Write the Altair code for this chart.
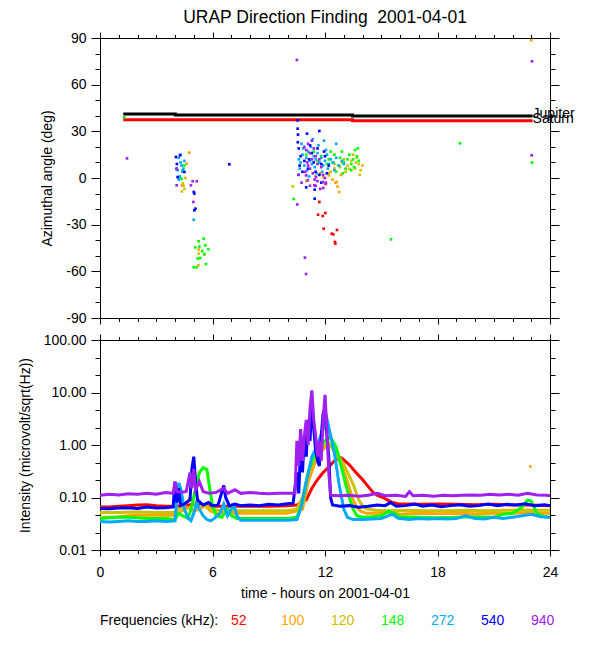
import altair as alt
import pandas as pd

FONT = "Liberation Sans"
FREQS = ["52", "100", "120", "148", "272", "540", "940"]
COLORS = ["#ff0000", "#ffa500", "#cdc000", "#00ff00", "#00aaff", "#0000ff", "#a020f0"]

TITLE = "URAP Direction Finding\u00a0 2001-04-01"
X_TITLE = "time - hours on 2001-04-01"
Y_TOP_TITLE = "Azimuthal angle (deg)"
Y_BOT_TITLE = "Intensity (microvolt/sqrt(Hz))"

X_MAJOR = [0, 6, 12, 18, 24]
X_MINOR = list(range(0, 25))
Y_TOP_MAJOR = [-90, -60, -30, 0, 30, 60, 90]
Y_TOP_MINOR = list(range(-90, 91, 10))
Y_BOT_MAJOR = [0.01, 0.1, 1, 10, 100]
Y_BOT_MINOR = [0.0215, 0.0464, 0.215, 0.464, 2.15, 4.64, 21.5, 46.4]

# ---- direction finding points (hours, azimuth deg) ----
DF_52 = [(11.70, -15.4), (11.63, -23.6), (11.88, -24.4), (12.02, -22.5), (11.93, -32.6),
         (12.36, -35.8), (12.64, -33.4), (12.53, -41.1), (12.55, -42.2), (12.44, -36.2)]
DF_100 = [(4.76, 16.3), (4.62, 9.2), (4.37, -4.7), (5.27, -46.0), (12.20, 1.7), (12.40, -1.0),
          (12.55, -3.0), (12.67, -5.5), (12.76, -9.0), (12.30, 4.0), (12.50, 6.0), (11.90, 0.5),
          (12.05, -4.0), (12.62, -2.5), (11.75, 3.0), (12.85, 2.0), (23.00, 88.5)]
DF_120 = [(4.41, -3.6), (4.50, -6.9), (4.37, -8.6), (4.55, 0.0), (4.45, -5.0), (5.26, -48.6),
          (5.25, -56.1), (5.56, -49.3), (10.28, -5.4), (12.20, 3.0), (12.50, 9.0), (12.80, 7.0),
          (13.00, 12.0), (13.20, 8.0), (13.40, 11.0), (13.60, 6.0), (13.70, 13.0), (13.80, 9.0),
          (13.90, 5.0), (14.00, 8.0), (13.50, 15.0), (13.10, 4.0), (13.85, 2.0), (11.50, 1.0),
          (11.00, -2.0), (12.90, 10.0), (13.30, 6.0), (13.65, 10.0)]
DF_148 = [(1.30, 39.0), (4.23, 0.0), (4.50, 8.1), (4.35, -0.5), (4.40, 5.0), (5.26, -40.7),
          (5.53, -39.0), (5.08, -44.6), (5.30, -44.1), (5.62, -43.3), (5.78, -45.8), (5.56, -48.9),
          (5.21, -51.8), (5.35, -51.4), (5.65, -55.3), (5.00, -57.4), (5.16, -57.4), (5.45, -47.0),
          (10.33, -13.5), (15.52, -39.4), (19.20, 22.3), (23.04, 9.9), (11.00, 15.0), (11.40, 17.0),
          (11.80, 14.0), (12.20, 12.0), (12.40, 10.0), (12.50, 15.0), (12.70, 8.0), (12.80, 13.0),
          (12.90, 17.0), (13.00, 10.0), (13.10, 6.0), (13.20, 12.0), (13.30, 15.0), (13.40, 9.0),
          (13.50, 12.0), (13.60, 18.0), (13.70, 14.0), (13.75, 19.0), (13.40, 5.0), (12.60, 4.0),
          (12.30, 17.0), (11.60, 11.0), (13.80, 11.0), (12.95, 3.0), (13.55, 7.0), (12.10, 9.0)]
DF_272 = [(4.20, 13.0), (4.30, 10.0), (4.35, 8.0), (4.15, 5.0), (4.40, 4.0), (4.50, 11.0),
          (4.25, 1.0), (4.45, 6.0), (4.30, 15.0), (4.20, -1.0), (5.00, -26.8), (10.60, 12.0),
          (10.70, 10.0), (10.80, 15.0), (10.90, 8.0), (11.00, 13.0), (11.10, 17.0), (11.20, 11.0),
          (11.30, 9.0), (11.40, 14.0), (11.50, 12.0), (11.60, 16.0), (11.70, 10.0), (11.80, 13.0),
          (11.90, 8.0), (12.00, 11.0), (12.10, 15.0), (12.20, 9.0), (12.30, 12.0), (12.45, 10.0),
          (12.60, 13.0), (12.75, 8.0), (12.90, 11.0), (10.65, 6.0), (10.85, 19.0), (11.05, 5.0),
          (11.25, 20.0), (11.45, 7.0), (11.65, 21.0), (11.85, 4.0), (12.05, 18.0), (10.75, 22.0),
          (11.35, 25.0), (10.60, 2.0), (12.50, 5.0), (13.00, 9.0), (11.95, 24.0), (11.15, 1.0),
          (12.15, 6.0), (11.55, 3.0), (12.60, 22.0)]
DF_540 = [(4.05, 13.5), (4.09, 6.0), (4.14, 0.6), (4.27, 14.6), (4.50, 3.9), (4.10, 9.0),
          (5.03, -10.0), (5.09, -19.7), (5.03, -20.8), (5.00, -9.0), (6.90, 8.8), (10.54, 37.0),
          (10.54, 31.7), (10.56, 27.9), (11.04, 28.5), (11.70, 30.2), (10.55, 23.0), (10.60, 19.0),
          (10.70, 14.0), (10.90, 11.0), (11.10, 6.0), (11.30, 16.0), (11.50, 4.0), (11.80, 9.0),
          (12.00, 14.0), (12.10, 3.0), (11.95, 17.0), (11.20, 21.0), (10.65, 8.0), (11.40, 10.0),
          (11.60, 19.0), (12.20, 8.0), (11.70, 2.0), (11.00, -6.0), (11.45, -7.5), (11.80, -3.0),
          (11.45, -13.3), (10.80, 4.0), (11.15, 12.0)]
DF_940 = [(1.44, 12.6), (4.09, 5.6), (4.09, -4.7), (4.85, -4.7), (4.94, -2.1), (5.16, -2.1),
          (4.98, -15.4), (10.52, -17.0), (10.50, 75.9), (10.93, -51.2), (10.99, -61.7), (23.02, 14.6),
          (23.04, 75.0), (10.90, 20.0), (11.00, 18.0), (11.10, 22.0), (11.20, 16.0), (11.30, 12.0),
          (11.05, 10.0), (11.40, 19.0), (11.50, 14.0), (11.60, 9.0), (11.20, 6.0), (11.35, 3.0),
          (11.70, 12.0), (11.80, 7.0), (11.90, 2.0), (12.00, 0.0), (11.60, -2.0), (11.50, -5.0),
          (12.05, -3.0), (11.75, -7.0), (11.20, -5.0), (10.95, 4.0), (11.10, 8.0), (11.45, -1.0),
          (10.75, -3.0), (11.30, 24.0), (10.99, 1.7), (11.08, -1.5), (11.52, 0.6), (11.43, -4.7),
          (11.88, -2.6), (12.02, -3.6), (11.91, -6.4), (10.58, 2.1)]

# planet directions
JUPITER = [(1.24, 41.2), (4.02, 41.2), (4.02, 40.5), (13.47, 40.5), (13.47, 39.9), (23.07, 39.9)]
SATURN = [(1.24, 37.5), (13.47, 37.5), (13.47, 36.8), (23.07, 36.8)]

# ---- intensity series (hours, microvolt/sqrt(Hz)) ----
INT_52 = [(0, 0.066), (0.5, 0.066), (1, 0.068), (1.5, 0.070), (2, 0.072), (2.5, 0.073), (3, 0.070),
          (3.5, 0.068), (4, 0.068), (4.5, 0.070), (5, 0.075), (5.5, 0.070), (6, 0.068), (7, 0.068),
          (8, 0.068), (9, 0.068), (10, 0.070), (10.5, 0.072), (11, 0.09), (11.3, 0.15), (11.6, 0.22),
          (11.9, 0.30), (12.2, 0.38), (12.5, 0.50), (12.8, 0.58), (12.95, 0.54), (13.3, 0.42),
          (13.65, 0.30), (14.0, 0.22), (14.2, 0.18), (14.55, 0.126), (14.8, 0.11), (15.1, 0.10),
          (15.4, 0.087), (15.6, 0.080), (15.9, 0.076), (16.5, 0.075), (17, 0.074), (18, 0.075),
          (19, 0.074), (20, 0.073), (21, 0.074), (22, 0.072), (23, 0.072), (24, 0.070)]
INT_100 = [(0, 0.042), (0.5, 0.042), (1, 0.043), (1.5, 0.045), (2, 0.046), (3, 0.046), (4, 0.046),
           (4.2, 0.05), (4.5, 0.06), (4.8, 0.065), (5.0, 0.055), (5.3, 0.06), (5.6, 0.07), (5.9, 0.055),
           (6.3, 0.05), (7, 0.05), (8, 0.05), (9, 0.05), (10, 0.05), (10.5, 0.056), (10.8, 0.06),
           (11.1, 0.2), (11.4, 0.4), (11.7, 0.7), (12.0, 0.9), (12.3, 1.0), (12.6, 0.7), (12.9, 0.4),
           (13.1, 0.25), (13.3, 0.15), (13.5, 0.09), (13.7, 0.065), (13.9, 0.055), (14.2, 0.05),
           (15, 0.05), (15.5, 0.052), (16, 0.048), (17, 0.05), (18, 0.049), (19, 0.05), (20, 0.049),
           (21, 0.05), (22, 0.05), (23, 0.052), (23.5, 0.05), (24, 0.05)]
INT_120 = [(0, 0.052), (1, 0.052), (2, 0.053), (3, 0.052), (4, 0.052), (4.2, 0.06), (4.5, 0.07),
           (4.8, 0.1), (5.0, 0.08), (5.3, 0.065), (5.6, 0.075), (5.9, 0.06), (6.3, 0.057), (7, 0.056),
           (8, 0.056), (9, 0.056), (10, 0.056), (10.5, 0.06), (10.8, 0.1), (11.1, 0.3), (11.4, 0.5),
           (11.7, 0.8), (12.0, 1.0), (12.2, 1.1), (12.5, 0.75), (12.8, 0.55), (13.0, 0.42), (13.2, 0.3),
           (13.5, 0.18), (13.8, 0.09), (14.0, 0.07), (14.2, 0.061), (14.7, 0.057), (15.5, 0.056),
           (16.5, 0.057), (17.5, 0.056), (18.5, 0.056), (19.5, 0.057), (20.5, 0.056), (21.5, 0.057),
           (22.5, 0.058), (23.5, 0.057), (24, 0.057)]
INT_148 = [(0, 0.040), (0.5, 0.041), (1, 0.042), (1.5, 0.042), (2, 0.041), (2.5, 0.040), (3, 0.040),
           (3.5, 0.040), (4.0, 0.038), (4.2, 0.05), (4.4, 0.045), (4.7, 0.04), (4.9, 0.07), (5.1, 0.15),
           (5.3, 0.3), (5.5, 0.37), (5.7, 0.34), (5.85, 0.15), (6.0, 0.07), (6.2, 0.045), (6.5, 0.042),
           (6.8, 0.06), (7.0, 0.045), (7.3, 0.04), (8, 0.04), (9, 0.04), (10, 0.04), (10.5, 0.042),
           (10.8, 0.08), (11.1, 0.3), (11.4, 0.6), (11.7, 0.9), (12.0, 1.2), (12.3, 1.4), (12.6, 0.9),
           (12.9, 0.35), (13.1, 0.18), (13.3, 0.1), (13.5, 0.06), (13.7, 0.045), (14, 0.042),
           (14.5, 0.043), (15.0, 0.045), (15.4, 0.055), (15.7, 0.05), (16, 0.043), (17, 0.042),
           (18, 0.041), (19, 0.042), (20, 0.043), (21, 0.042), (21.5, 0.048), (22, 0.05), (22.5, 0.065),
           (22.8, 0.09), (23.0, 0.085), (23.3, 0.05), (23.7, 0.043), (24, 0.042)]
INT_272 = [(0, 0.035), (0.5, 0.034), (1, 0.035), (1.5, 0.036), (2, 0.035), (2.5, 0.035), (3, 0.036),
           (3.5, 0.035), (4.0, 0.036), (4.1, 0.1), (4.2, 0.19), (4.3, 0.15), (4.5, 0.06), (4.7, 0.04),
           (4.85, 0.036), (5.0, 0.05), (5.15, 0.08), (5.3, 0.06), (5.5, 0.045), (5.7, 0.038),
           (5.9, 0.036), (6.1, 0.04), (6.4, 0.05), (6.6, 0.075), (6.8, 0.045), (7.0, 0.06), (7.15, 0.07),
           (7.3, 0.045), (7.5, 0.037), (8, 0.037), (9, 0.037), (10, 0.037), (10.5, 0.038), (10.7, 0.06),
           (11.0, 0.2), (11.3, 0.6), (11.6, 1.0), (11.9, 2.0), (12.1, 3.2), (12.3, 1.5), (12.5, 0.7),
           (12.75, 0.18), (13.0, 0.06), (13.2, 0.042), (13.5, 0.038), (14, 0.038), (14.5, 0.039),
           (15, 0.04), (15.4, 0.045), (15.6, 0.048), (15.9, 0.04), (16.5, 0.038), (17, 0.04),
           (17.5, 0.039), (18, 0.04), (18.5, 0.039), (19, 0.04), (19.5, 0.045), (20, 0.04),
           (20.5, 0.039), (21, 0.042), (21.5, 0.04), (22, 0.042), (22.5, 0.045), (23, 0.048),
           (23.5, 0.043), (24, 0.042)]
INT_540 = [(0, 0.062), (0.5, 0.061), (1, 0.063), (1.5, 0.064), (2, 0.062), (2.5, 0.066), (3, 0.063),
           (3.5, 0.064), (3.9, 0.066), (4.0, 0.2), (4.1, 0.08), (4.2, 0.15), (4.3, 0.07), (4.5, 0.075),
           (4.8, 0.09), (4.9, 0.35), (5.0, 0.6), (5.1, 0.2), (5.2, 0.09), (5.5, 0.072), (5.8, 0.08),
           (6.0, 0.07), (6.3, 0.072), (6.6, 0.17), (6.7, 0.1), (6.9, 0.07), (7.2, 0.075), (7.5, 0.07),
           (8, 0.072), (8.5, 0.07), (9, 0.074), (9.5, 0.072), (10, 0.076), (10.3, 0.078), (10.5, 0.3),
           (10.6, 0.12), (10.7, 0.9), (10.8, 0.3), (10.9, 1.5), (11.0, 0.6), (11.1, 3.0), (11.2, 1.2),
           (11.3, 6.0), (11.4, 2.0), (11.5, 0.8), (11.6, 0.5), (11.7, 0.4), (11.8, 1.5), (11.9, 4.0),
           (12.0, 5.0), (12.1, 1.5), (12.2, 0.6), (12.3, 0.1), (12.4, 0.072), (12.8, 0.068),
           (13.3, 0.07), (13.8, 0.065), (14.3, 0.068), (14.8, 0.072), (15.2, 0.07), (15.5, 0.08),
           (15.8, 0.068), (16.3, 0.07), (16.8, 0.075), (17.2, 0.068), (17.7, 0.072), (18.2, 0.067),
           (18.7, 0.07), (19.2, 0.073), (19.7, 0.068), (20.2, 0.07), (20.7, 0.075), (21.2, 0.07),
           (21.7, 0.074), (22.2, 0.072), (22.7, 0.076), (23.2, 0.07), (23.7, 0.073), (24, 0.07)]
INT_940 = [(0, 0.11), (0.5, 0.115), (1, 0.112), (1.5, 0.118), (2, 0.115), (2.5, 0.12), (3, 0.115),
           (3.5, 0.125), (3.9, 0.12), (4.0, 0.2), (4.1, 0.13), (4.3, 0.125), (4.6, 0.13), (4.8, 0.3),
           (4.9, 0.15), (5.0, 0.35), (5.1, 0.14), (5.3, 0.2), (5.5, 0.13), (5.8, 0.12), (6.2, 0.125),
           (6.6, 0.15), (6.8, 0.12), (7.2, 0.14), (7.5, 0.12), (8.0, 0.125), (8.5, 0.12), (9, 0.118),
           (9.5, 0.12), (10, 0.12), (10.4, 0.12), (10.5, 1.2), (10.6, 0.4), (10.7, 2.0), (10.8, 0.5),
           (10.9, 1.5), (11.0, 3.0), (11.1, 1.0), (11.2, 5.0), (11.3, 11.0), (11.4, 3.0), (11.5, 1.5),
           (11.6, 0.6), (11.7, 1.2), (11.8, 0.5), (11.9, 3.0), (12.0, 9.0), (12.1, 2.0), (12.2, 0.3),
           (12.3, 0.11), (12.8, 0.108), (13.3, 0.11), (13.8, 0.106), (14.3, 0.11), (14.8, 0.12),
           (15.2, 0.108), (15.8, 0.11), (16.3, 0.105), (16.5, 0.13), (16.7, 0.108), (17.2, 0.11),
           (17.8, 0.106), (18.3, 0.11), (18.8, 0.108), (19.3, 0.11), (19.8, 0.112), (20.3, 0.11),
           (20.8, 0.115), (21.3, 0.112), (21.8, 0.115), (22.3, 0.11), (22.8, 0.12), (23.3, 0.112),
           (23.8, 0.11), (24, 0.108)]
INT_100_ISOLATED = [(22.95, 0.39)]

DF_BY_FREQ = [DF_52, DF_100, DF_120, DF_148, DF_272, DF_540, DF_940]
INT_BY_FREQ = [INT_52, INT_100, INT_120, INT_148, INT_272, INT_540, INT_940]

top_df = pd.DataFrame(
    [{"t": t, "ang": a, "f": f} for f, pts in zip(FREQS, DF_BY_FREQ) for t, a in pts]
)
bot_df = pd.DataFrame(
    [{"t": t, "v": v, "f": f} for f, pts in zip(FREQS, INT_BY_FREQ) for t, v in pts]
)
iso_df = pd.DataFrame([{"t": t, "v": v, "f": "100"} for t, v in INT_100_ISOLATED])
jup_df = pd.DataFrame([{"t": t, "ang": a} for t, a in JUPITER])
sat_df = pd.DataFrame([{"t": t, "ang": a} for t, a in SATURN])
lab_df = pd.DataFrame([
    {"t": JUPITER[-1][0], "ang": JUPITER[-1][1], "name": "Jupiter"},
    {"t": SATURN[-1][0], "ang": SATURN[-1][1], "name": "Saturn"},
])

color_scale = alt.Scale(domain=FREQS, range=COLORS)
xs = alt.Scale(domain=[0, 24], nice=False, zero=False)
ys_top = alt.Scale(domain=[-90, 90], nice=False, zero=False)
ys_bot = alt.Scale(type="log", domain=[0.01, 100], nice=False)

HYPHEN = "(datum.value < 0 ? '-' : '') + abs(datum.value)"
TXT = dict(labelFont=FONT, titleFont=FONT, labelFontSize=14, titleFontSize=14,
           titleFontWeight="normal", labelColor="black", titleColor="black",
           tickColor="black", domainColor="black", grid=False)


def tick_axis(orient, values, size, domain=False):
    return alt.Axis(orient=orient, values=values, tickSize=size, labels=False, title=None,
                    domain=domain, tickColor="black", domainColor="black", grid=False)


# ---------------- top panel ----------------
top_points = alt.Chart(top_df).mark_square(size=7, opacity=1).encode(
    x=alt.X("t:Q", scale=xs, axis=tick_axis("bottom", X_MAJOR, 6, True)),
    y=alt.Y("ang:Q", scale=ys_top, axis=alt.Axis(
        orient="left", values=Y_TOP_MAJOR, tickSize=9, labelPadding=5, labelFlush=False,
        labelExpr=HYPHEN, title=Y_TOP_TITLE, titlePadding=12, minExtent=34, maxExtent=34,
        domain=True, **TXT)),
    color=alt.Color("f:N", scale=color_scale, legend=None),
)
top_minor = alt.Chart(top_df).mark_point(opacity=0).encode(
    x=alt.X("t:Q", scale=xs, axis=tick_axis("bottom", X_MINOR, 3.5)),
    y=alt.Y("ang:Q", scale=ys_top, axis=tick_axis("left", Y_TOP_MINOR, 5)),
)
top_major2 = alt.Chart(top_df).mark_point(opacity=0).encode(
    x=alt.X("t:Q", scale=xs, axis=tick_axis("top", X_MAJOR, 6, True)),
    y=alt.Y("ang:Q", scale=ys_top, axis=tick_axis("right", Y_TOP_MAJOR, 9, True)),
)
top_minor2 = alt.Chart(top_df).mark_point(opacity=0).encode(
    x=alt.X("t:Q", scale=xs, axis=tick_axis("top", X_MINOR, 3.5)),
    y=alt.Y("ang:Q", scale=ys_top, axis=tick_axis("right", Y_TOP_MINOR, 5)),
)
jup_line = alt.Chart(jup_df).mark_line(strokeWidth=3, color="black").encode(
    x=alt.X("t:Q", scale=xs, axis=None), y=alt.Y("ang:Q", scale=ys_top, axis=None))
sat_line = alt.Chart(sat_df).mark_line(strokeWidth=3, color="#ff0000").encode(
    x=alt.X("t:Q", scale=xs, axis=None), y=alt.Y("ang:Q", scale=ys_top, axis=None))
planet_labels = alt.Chart(lab_df).mark_text(
    align="left", baseline="middle", dy=-2, font=FONT, fontSize=14, color="black"
).encode(
    x=alt.X("t:Q", scale=xs, axis=None), y=alt.Y("ang:Q", scale=ys_top, axis=None), text="name:N")

top = alt.layer(
    top_minor, top_major2, top_minor2, jup_line, sat_line, top_points, planet_labels
).resolve_axis(x="independent", y="independent").properties(
    width=450, height=280,
    title=alt.TitleParams(text=TITLE, font=FONT, fontSize=17.5, fontWeight="normal",
                          anchor="middle", frame="group", offset=5, color="black"),
)

# ---------------- bottom panel ----------------
bot_lines = alt.Chart(bot_df).mark_line(strokeWidth=3).encode(
    x=alt.X("t:Q", scale=xs, axis=alt.Axis(
        orient="bottom", values=X_MAJOR, tickSize=6, labelPadding=9, labelFlush=False,
        title=X_TITLE, titlePadding=7, domain=True, **TXT)),
    y=alt.Y("v:Q", scale=ys_bot, axis=alt.Axis(
        orient="left", values=Y_BOT_MAJOR, format=".2f", tickSize=9, labelPadding=5,
        labelFlush=False, labelOverlap=False, title=Y_BOT_TITLE, titlePadding=11,
        minExtent=57, maxExtent=57, domain=True, **TXT)),
    color=alt.Color("f:N", scale=color_scale, legend=None),
)
bot_iso = alt.Chart(iso_df).mark_square(size=7, opacity=1).encode(
    x=alt.X("t:Q", scale=xs, axis=None), y=alt.Y("v:Q", scale=ys_bot, axis=None),
    color=alt.Color("f:N", scale=color_scale, legend=None),
)
bot_minor = alt.Chart(bot_df).mark_point(opacity=0).encode(
    x=alt.X("t:Q", scale=xs, axis=tick_axis("bottom", X_MINOR, 3.5)),
    y=alt.Y("v:Q", scale=ys_bot, axis=tick_axis("left", Y_BOT_MINOR, 5)),
)
bot_major2 = alt.Chart(bot_df).mark_point(opacity=0).encode(
    x=alt.X("t:Q", scale=xs, axis=tick_axis("top", X_MAJOR, 6, True)),
    y=alt.Y("v:Q", scale=ys_bot, axis=tick_axis("right", Y_BOT_MAJOR, 9, True)),
)
bot_minor2 = alt.Chart(bot_df).mark_point(opacity=0).encode(
    x=alt.X("t:Q", scale=xs, axis=tick_axis("top", X_MINOR, 3.5)),
    y=alt.Y("v:Q", scale=ys_bot, axis=tick_axis("right", Y_BOT_MINOR, 5)),
)
bottom = alt.layer(
    bot_minor, bot_major2, bot_minor2, bot_lines, bot_iso
).resolve_axis(x="independent", y="independent").properties(width=450, height=210)

# ---------------- frequency legend row ----------------
leg_df = pd.DataFrame({"f": FREQS})
leg_nums = alt.Chart(leg_df).mark_text(
    align="left", baseline="middle", font=FONT, fontSize=14
).encode(
    x=alt.X("f:N", sort=FREQS, axis=None,
            scale=alt.Scale(type="point", domain=FREQS, range=[131, 431], padding=0)),
    y=alt.value(7),
    text="f:N",
    color=alt.Color("f:N", scale=color_scale, legend=None),
)
leg_label = alt.Chart(pd.DataFrame({"label": ["Frequencies (kHz):"]})).mark_text(
    align="left", baseline="middle", font=FONT, fontSize=14, color="black"
).encode(x=alt.value(0), y=alt.value(7), text="label:N")
legend_row = alt.layer(leg_label, leg_nums).properties(width=450, height=14)

panels = alt.vconcat(top, bottom, spacing=8).resolve_scale(
    x="independent", y="independent", color="independent")
chart = alt.vconcat(panels, legend_row, spacing=14).resolve_scale(
    x="independent", y="independent", color="independent"
).properties(
    padding={"left": 10, "top": 0, "right": 0, "bottom": 0}, background="white"
).configure_view(strokeOpacity=0).configure_axis(
    domainColor="black", tickColor="black", labelColor="black", titleColor="black",
    labelFont=FONT, titleFont=FONT, labelFontSize=14, titleFontSize=14,
    titleFontWeight="normal", tickWidth=1, domainWidth=1, grid=False,
)

chart.save("out.html", embed_options={"renderer": "svg", "actions": False})
